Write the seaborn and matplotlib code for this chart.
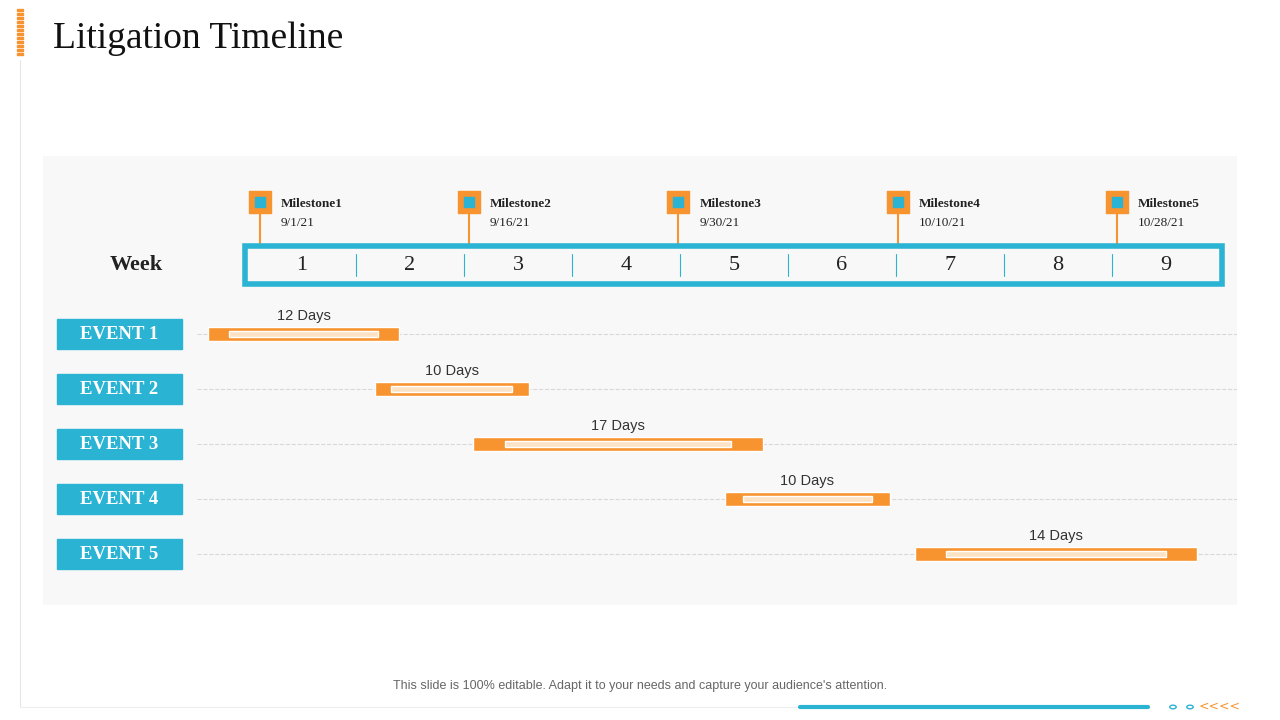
import matplotlib
matplotlib.use("Agg")
import matplotlib.pyplot as plt
import seaborn as sns
import pandas as pd
from matplotlib.patches import Rectangle, FancyBboxPatch

events = ["EVENT 1", "EVENT 2", "EVENT 3", "EVENT 4", "EVENT 5"]
starts = [-2.6, 8.2, 14.6, 30.9, 43.2]
widths = [12.4, 10.0, 18.8, 10.7, 18.3]
day_labels = ["12 Days", "10 Days", "17 Days", "10 Days", "14 Days"]
weeks = ["1", "2", "3", "4", "5", "6", "7", "8", "9"]
milestones = ["Milestone1", "Milestone2", "Milestone3", "Milestone4", "Milestone5"]
milestone_dates = ["9/1/21", "9/16/21", "9/30/21", "10/10/21", "10/28/21"]
milestone_pos = [0.78, 14.3, 27.9, 42.1, 56.3]

ORANGE = "#F7942F"
BLUE = "#2BB3D4"
SERIF = "Liberation Serif"

sns.set_theme(style="white")
fig = plt.figure(figsize=(12.8, 7.2), dpi=100)
fig.patch.set_facecolor("white")

ax = fig.add_axes([43/1280, 1-605/720, (1237-43)/1280, (605-156)/720])
ax.set_facecolor("#F8F8F8")
ppd = 972/63
ax.set_xlim((43-248)/ppd, (1237-248)/ppd)
ax.set_ylim((605-334)/55, (156-334)/55)
for s in ax.spines.values():
    s.set_visible(False)
ax.set_xticks([]); ax.set_yticks([])

x1 = ax.get_xlim()[1]
for i, ev in enumerate(events):
    ax.plot([(197-248)/ppd, x1], [i, i], color="#D8D8D8", lw=0.8, ls="--", zorder=1)
    ax.add_patch(Rectangle((-12.4, i-0.28), 8.15, 0.56, color=BLUE, zorder=2))
    ax.text(-8.33, i + 0.01, ev, color="white", fontsize=13.5, fontweight="bold", family=SERIF,
            ha="center", va="center", zorder=3)

df = pd.DataFrame({"event": events, "start": starts, "width": widths})
ax.barh(df.index, df["width"], left=df["start"], height=0.24, color=ORANGE, zorder=3)
for i in range(len(events)):
    pad = widths[i]*0.11
    ax.barh(i, widths[i]-2*pad, left=starts[i]+pad, height=0.1, color="#FDE3C6", zorder=4)
    ax.text(starts[i]+widths[i]/2, i-0.2, day_labels[i], ha="center", va="bottom",
            fontsize=10.5, color="#333333", family="Liberation Sans")

wy = (265-334)/55
ax.add_patch(Rectangle(((245-248)/ppd, wy-0.34), (1222-245)/ppd, 0.68, fill=False,
                       ec=BLUE, lw=4, zorder=3))
for k, w in enumerate(weeks):
    ax.text(k*7+3.5, wy, w, ha="center", va="center", fontsize=16, family=SERIF, color="#222")
    if k > 0:
        ax.plot([k*7, k*7], [wy-0.2, wy+0.2], color=BLUE, lw=0.8)
ax.text((136-248)/ppd, wy, "Week", ha="center", va="center", fontsize=16,
        fontweight="bold", family=SERIF, color="#222")

my = (202-334)/55
for m, d, p in zip(milestones, milestone_dates, milestone_pos):
    ax.plot([p, p], [my, wy-0.36], color=ORANGE, lw=1.5, zorder=2)
    ax.scatter([p], [my], marker="s", s=230, color=ORANGE, zorder=4)
    ax.scatter([p], [my], marker="s", s=60, color=BLUE, zorder=5)
    ax.text(p+1.35, my+0.04, m, fontsize=9.5, fontweight="bold", family=SERIF, va="center", color="#222")
    ax.text(p+1.35, my+0.38, d, fontsize=9.5, family=SERIF, va="center", color="#222")

fig.text(53/1280, 1-39/720, "Litigation Timeline", fontsize=27, family=SERIF,
         va="center", color="#111")
fig.text(640/1280, 1-686/720, "This slide is 100% editable. Adapt it to your needs and capture your audience's attention.",
         ha="center", va="center", fontsize=9, color="#666", family="Liberation Sans")
fig.add_artist(plt.Line2D([20/1280, 20/1280], [1-60/720, 1-706/720], color="#E6E6E6", lw=0.8))
fig.add_artist(plt.Line2D([20/1280, 1150/1280], [1-707/720, 1-707/720], color="#EEEEEE", lw=0.8))
fig.add_artist(plt.Line2D([800/1280, 1148/1280], [1-707/720, 1-707/720], color=BLUE, lw=3))
for k in range(12):
    fig.add_artist(Rectangle((17/1280, 1-(8+k*4+3)/720), 6/1280, 2.5/720, color=ORANGE,
                             transform=fig.transFigure))
for cx in [1173, 1190]:
    fig.add_artist(plt.Circle((cx/1280, 1-707/720), 0.0025, fill=False, ec=BLUE, lw=1,
                              transform=fig.transFigure))
fig.text(1220/1280, 1-706/720, "<<<<", color=ORANGE, fontsize=9, ha="center", va="center")

fig.savefig("out.png", dpi=100)
